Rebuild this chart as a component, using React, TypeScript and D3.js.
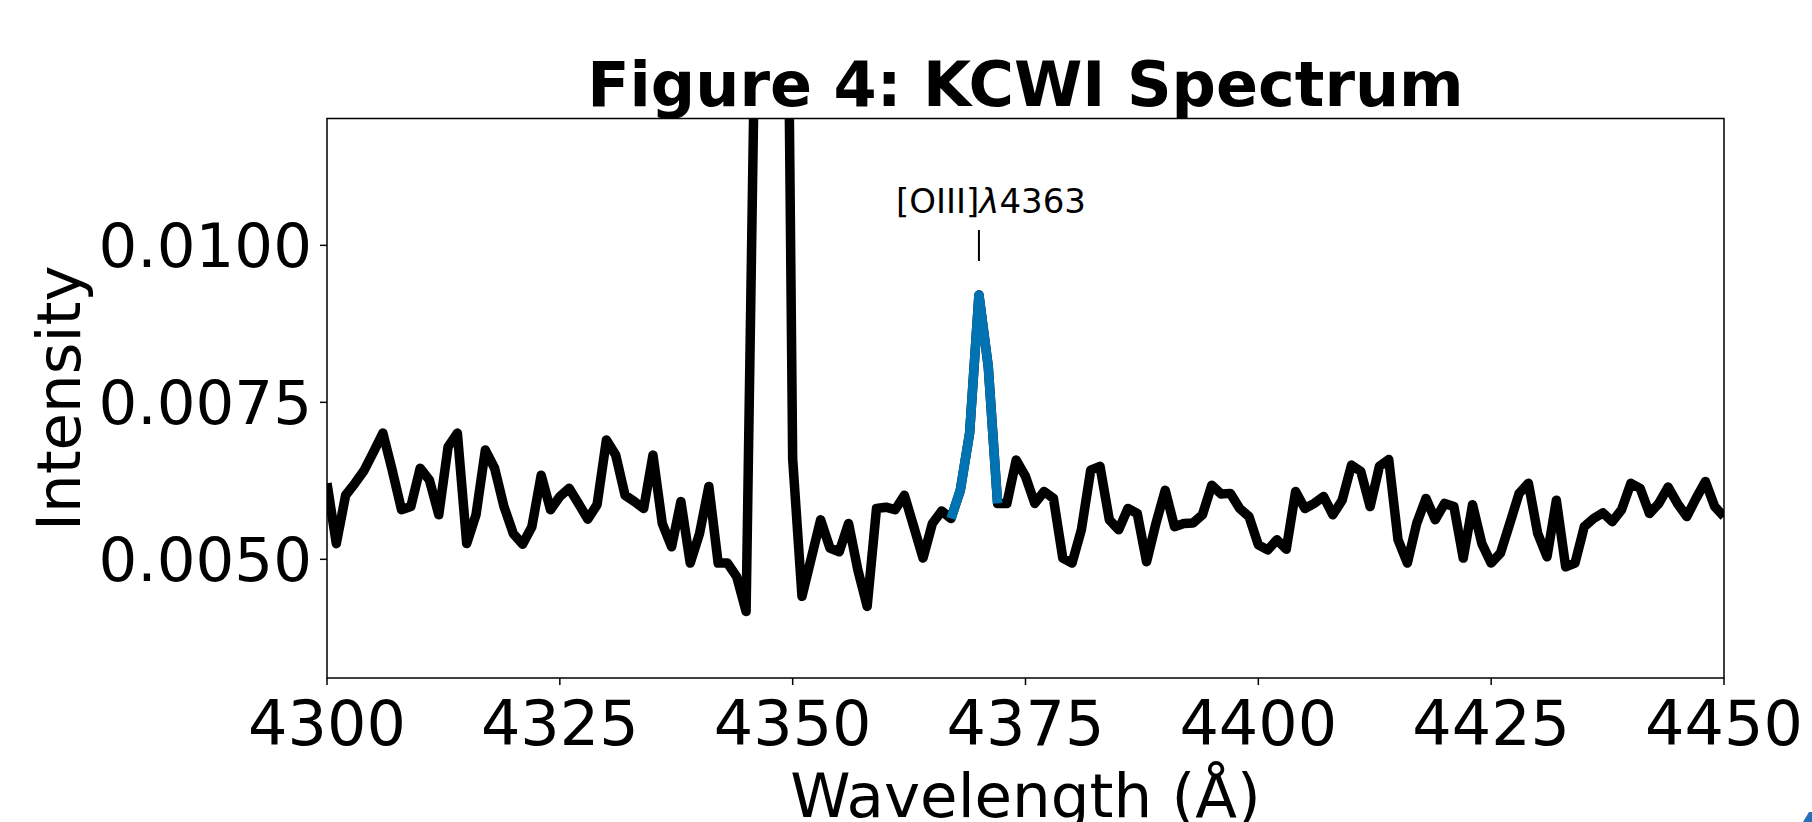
import { useMemo } from "react";
import * as d3 from "d3";

// KCWI spectrum, 1 A sampling starting at 4300 A
const WAVE_START = 4300;
const WAVE_STEP = 1;
const FLUX = [
  0.00621, 0.00525, 0.00602, 0.00621, 0.00642, 0.00671, 0.00701, 0.00642, 0.00579, 0.00584,
  0.00645, 0.00626, 0.00571, 0.00679, 0.00701, 0.00525, 0.00571, 0.00674, 0.00645, 0.00584,
  0.00541, 0.00524, 0.00552, 0.00634, 0.00579, 0.006, 0.00613, 0.00589, 0.00564, 0.00587,
  0.0069, 0.00666, 0.00602, 0.00592, 0.00581, 0.00666, 0.00557, 0.0052, 0.00592, 0.00494,
  0.00541, 0.00616, 0.00494, 0.00494, 0.00472, 0.00417, 0.014, 0.03, 0.032, 0.022,
  0.0066, 0.00441, 0.00502, 0.00563, 0.00518, 0.00512, 0.00557, 0.00483, 0.00425, 0.00581,
  0.00583, 0.00579, 0.00602, 0.00552, 0.00502, 0.00557, 0.00577, 0.00565, 0.0061, 0.00701,
  0.00921, 0.00807, 0.00589, 0.00589, 0.00658, 0.00632, 0.00589, 0.00608, 0.00597, 0.00502,
  0.00494, 0.00547, 0.00642, 0.00648, 0.00563, 0.00547, 0.00581, 0.00573, 0.00496, 0.00557,
  0.0061, 0.00552, 0.00557, 0.00558, 0.00571, 0.00618, 0.00604, 0.00605, 0.00581, 0.00568,
  0.00523, 0.00515, 0.00531, 0.00516, 0.00608, 0.00581, 0.00589, 0.006, 0.00571, 0.00594,
  0.0065, 0.0064, 0.00584, 0.00648, 0.00659, 0.00531, 0.00494, 0.00557, 0.00597, 0.00563,
  0.00589, 0.00584, 0.00502, 0.00587, 0.00525, 0.00494, 0.0051, 0.00557, 0.00605, 0.00621,
  0.00541, 0.00504, 0.00594, 0.00488, 0.00494, 0.00552, 0.00565, 0.00574, 0.0056, 0.00579,
  0.00621, 0.00613, 0.00573, 0.00589, 0.00615, 0.00589, 0.00568, 0.00597, 0.00624, 0.00584,
  0.00568,
];

// highlighted [OIII] 4363 region (observed)
const LINE_RANGE = [4367, 4372];
const LINE_CENTER = 4370;
const LINE_LABEL = ["[OIII]", "λ", "4363"];

const X_DOMAIN = [4300, 4450];
const Y_DOMAIN = [0.00311, 0.01202];
const X_TICKS = [4300, 4325, 4350, 4375, 4400, 4425, 4450];
const Y_TICKS = [0.005, 0.0075, 0.01];

const TITLE = "Figure 4: KCWI Spectrum";
const X_LABEL = "Wavelength (Å)";
const Y_LABEL = "Intensity";

const W = 1812;
const H = 822;
const margin = { left: 327, right: 88, top: 118.5, bottom: 144 };
const FONT = "DejaVu Sans";

export default function App() {
  const data = useMemo(
    () => FLUX.map((f, i) => ({ wave: WAVE_START + i * WAVE_STEP, flux: f })),
    []
  );

  const x = d3.scaleLinear(X_DOMAIN, [margin.left, W - margin.right]);
  const y = d3.scaleLinear(Y_DOMAIN, [H - margin.bottom, margin.top]);

  const line = d3
    .line<{ wave: number; flux: number }>()
    .x((d) => x(d.wave))
    .y((d) => y(d.flux));

  const lineData = data.filter(
    (d) => d.wave >= LINE_RANGE[0] && d.wave <= LINE_RANGE[1]
  );

  const [x0, x1] = x.range();
  const [y0, y1] = y.range(); // y0 bottom, y1 top
  const fmtY = d3.format(".4f");
  const tickLen = 7;

  return (
    <svg
      width={W}
      height={H}
      style={{ position: "absolute", left: 0, top: 0, background: "#fff" }}
      fontFamily={FONT}
    >
      <defs>
        <clipPath id="plot-clip">
          <rect x={x0} y={y1} width={x1 - x0} height={y0 - y1} />
        </clipPath>
      </defs>

      {/* spectrum */}
      <g clipPath="url(#plot-clip)">
        <path
          d={line(data) ?? ""}
          fill="none"
          stroke="#000"
          strokeWidth={9.5}
          strokeLinejoin="round"
        />
        <path
          d={line(lineData) ?? ""}
          fill="none"
          stroke="#0173b2"
          strokeWidth={9.5}
          strokeLinejoin="round"
        />
      </g>

      {/* frame */}
      <rect
        x={x0}
        y={y1}
        width={x1 - x0}
        height={y0 - y1}
        fill="none"
        stroke="#000"
        strokeWidth={1.5}
      />

      {/* x axis */}
      {X_TICKS.map((t) => (
        <g key={t}>
          <line x1={x(t)} x2={x(t)} y1={y0} y2={y0 + tickLen} stroke="#000" strokeWidth={1.5} />
          <text x={x(t)} y={y0 + 67} textAnchor="middle" fontSize={62}>
            {t}
          </text>
        </g>
      ))}

      {/* y axis */}
      {Y_TICKS.map((t) => (
        <g key={t}>
          <line x1={x0 - tickLen} x2={x0} y1={y(t)} y2={y(t)} stroke="#000" strokeWidth={1.5} />
          <text x={x0 - 15} y={y(t) + 22} textAnchor="end" fontSize={61}>
            {fmtY(t)}
          </text>
        </g>
      ))}

      {/* labels */}
      <text x={(x0 + x1) / 2} y={817} textAnchor="middle" fontSize={61}>
        {X_LABEL}
      </text>
      <text
        transform={`translate(80, ${(y0 + y1) / 2}) rotate(-90)`}
        textAnchor="middle"
        fontSize={61}
      >
        {Y_LABEL}
      </text>
      <text
        x={(x0 + x1) / 2}
        y={106}
        textAnchor="middle"
        fontSize={62}
        fontWeight="bold"
      >
        {TITLE}
      </text>

      {/* line annotation */}
      <text x={x(LINE_CENTER) + 12} y={213} textAnchor="middle" fontSize={34}>
        {LINE_LABEL[0]}
        <tspan fontStyle="italic">{LINE_LABEL[1]}</tspan>
        {LINE_LABEL[2]}
      </text>
      <line
        x1={x(LINE_CENTER)}
        x2={x(LINE_CENTER)}
        y1={230}
        y2={261}
        stroke="#000"
        strokeWidth={2}
      />

      {/* blue corner at bottom right */}
      <path
        d={`M${W - 9},${H} L${W - 3},${H - 10} L${W},${H - 10} L${W},${H} Z`}
        fill="#2a6ebb"
      />
    </svg>
  );
}
